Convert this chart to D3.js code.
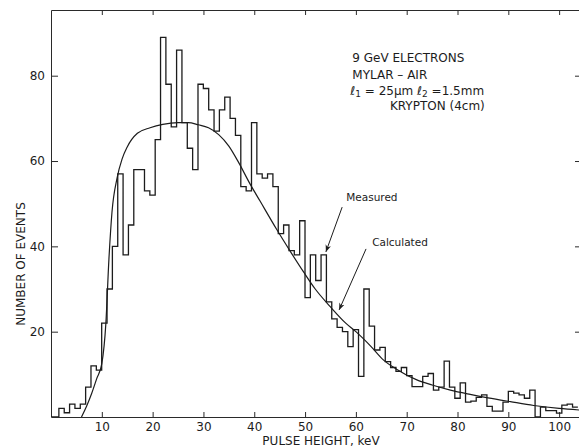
<!DOCTYPE html>
<html>
<head>
<meta charset="utf-8">
<script src="https://cdn.jsdelivr.net/npm/d3@7"></script>
<style>
  body { margin: 0; background: #fff; }
  text { font-family: "DejaVu Sans", sans-serif; fill: #1c1c1c; }
</style>
</head>
<body>
<div id="chart"></div>
<script>
// Measured histogram: bins start at binStartKeV, each binWidthKeV wide
var binStartKeV = 1.55;
var binWidthKeV = 1.053;
var measuredCounts = [
  2, 1, 3, 2, 3, 7, 12, 11, 22, 30,
  40, 57, 38, 45, 58, 58, 53, 52, 65, 89,
  78, 68, 86, 69, 63, 58, 78, 77, 72, 67,
  72, 75, 70, 66, 54, 53, 69, 57, 56, 57,
  54, 43, 45, 39, 38, 46, 28, 38, 32, 38,
  27, 23, 21, 20, 16.5, 20.5, 9.5, 30, 21.3, 15.7,
  16.3, 13, 11.6, 10.7, 11.6, 9.7, 7.1, 7.1, 9.5, 10.2,
  6.3, 7, 13.1, 7, 4.4, 8, 3.5, 3.7, 4.6, 5.2,
  2.5, 1.4, 1.4, 3.5, 6, 5.6, 5.2, 4.4, 6.3, 0,
  2.3, 1.5, 1.5, 0.9, 2.8, 3, 2.3
];

// Calculated curve
var calcKeV = [6.0, 7, 8, 9, 10, 10.8, 11.4, 12, 13, 14, 15, 17, 19.5, 22, 25, 27, 29, 31, 33, 35,
  37, 39, 41.2, 44.4, 47, 49.7, 52, 55, 58, 60, 63, 65.4, 68, 72, 75, 78.6, 82.5, 86, 90.4, 95, 100, 104.5];
var calcCounts = [0, 2.5, 5.5, 9, 12.5, 22, 37, 48, 56, 60.5, 63.3, 66.5, 67.8, 68.6, 69, 69, 68.5, 67.8, 66.2, 63.5,
  59.5, 55, 50.5, 44, 39, 34, 30, 25.8, 22, 20, 16.5, 13.4, 11.2, 8.7, 7.5, 6.3, 5.3, 4.5, 3.6, 2.7, 2.0, 1.6];

// Axis ticks
var xTicks = [10, 20, 30, 40, 50, 60, 70, 80, 90, 100];
var yTicks = [20, 40, 60, 80];

// Text block and arrows (data coordinates)
var infoLines = ["9 GeV ELECTRONS", "MYLAR \u2013 AIR", "", "KRYPTON (4cm)"];
var infoKeV = [59.3, 59.3, 58.9, 66.7];
var infoCount = [83.2, 79.2, 75.5, 72.0];

var noteLabels = ["Measured", "Calculated"];
var noteKeV = [58.1, 63.2];
var noteCount = [50.6, 40.1];
var arrowFromKeV = [57.3, 62.0];
var arrowFromCount = [49.2, 39.4];
var arrowToKeV = [54.1, 56.7];
var arrowToCount = [38.7, 25.1];

// SVG area
var svgWidth = 579;
var svgHeight = 447;

// right margin is negative: the right frame sits just past the edge of the picture
var chartMargin = { top: 10, right: -3, bottom: 30, left: 51 };
var chartWidth = svgWidth - chartMargin.left - chartMargin.right;
var chartHeight = svgHeight - chartMargin.top - chartMargin.bottom;

var svg = d3.select("#chart")
  .append("svg")
  .attr("width", svgWidth)
  .attr("height", svgHeight)
;

var defs = svg.append("defs");
defs.append("clipPath")
    .attr("id", "plot-clip")
  .append("rect")
    .attr("width", chartWidth)
    .attr("height", chartHeight);

defs.append("marker")
    .attr("id", "arrow")
    .attr("viewBox", "0 0 10 10")
    .attr("refX", 10)
    .attr("refY", 5)
    .attr("markerWidth", 7)
    .attr("markerHeight", 7)
    .attr("orient", "auto")
  .append("path")
    .attr("d", "M0,1 L10,5 L0,9 L3,5 z")
    .attr("fill", "#1c1c1c");

var chartGroup = svg.append("g")
    .attr("transform", `translate(${chartMargin.left}, ${chartMargin.top})`)
;

// Scales
var xScale = d3.scaleLinear()
  .domain([0, 104.5])
  .range([0, chartWidth])
;
var yScale = d3.scaleLinear()
  .domain([0, 95.4])
  .range([chartHeight, 0])
;

// Axes, ticks pointing into the plot
var bottomAxis = d3.axisBottom(xScale).tickValues(xTicks).tickSize(-5).tickSizeOuter(0).tickPadding(5);
var topAxis = d3.axisTop(xScale).tickValues(xTicks).tickSize(-5).tickSizeOuter(0).tickFormat("");
var leftAxis = d3.axisLeft(yScale).tickValues(yTicks).tickSize(-7).tickSizeOuter(0).tickPadding(6);
var rightAxis = d3.axisRight(yScale).tickValues(yTicks).tickSize(-7).tickSizeOuter(0).tickFormat("");

chartGroup.append("g")
    .attr("transform", `translate(0, ${chartHeight})`)
    .call(bottomAxis);
chartGroup.append("g").call(topAxis);
chartGroup.append("g").call(leftAxis);
chartGroup.append("g")
    .attr("transform", `translate(${chartWidth}, 0)`)
    .call(rightAxis);

chartGroup.selectAll(".domain, .tick line")
    .attr("stroke", "#2a2a2a")
    .attr("stroke-width", 1);
chartGroup.selectAll(".tick text")
    .attr("font-family", "DejaVu Sans")
    .attr("font-size", 12)
    .attr("fill", "#1c1c1c");

// Measured histogram as a step line
var steps = [[0, 0]];
measuredCounts.forEach(function(c, i) {
    steps.push([binStartKeV + i * binWidthKeV, c]);
});
steps.push([binStartKeV + measuredCounts.length * binWidthKeV, measuredCounts[measuredCounts.length - 1]]);

var stepLine = d3.line()
    .x(d => xScale(d[0]))
    .y(d => yScale(d[1]))
    .curve(d3.curveStepAfter);

chartGroup.append("path")
    .datum(steps)
    .attr("clip-path", "url(#plot-clip)")
    .attr("d", stepLine)
    .attr("fill", "none")
    .attr("stroke", "#1c1c1c")
    .attr("stroke-width", 1.3);

// Calculated curve
var calcLine = d3.line()
    .x((d, i) => xScale(calcKeV[i]))
    .y(d => yScale(d))
    .curve(d3.curveMonotoneX);

chartGroup.append("path")
    .datum(calcCounts)
    .attr("clip-path", "url(#plot-clip)")
    .attr("d", calcLine)
    .attr("fill", "none")
    .attr("stroke", "#1c1c1c")
    .attr("stroke-width", 1.2);

// Info block
infoLines.forEach(function(t, i) {
    var txt = chartGroup.append("text")
        .attr("x", xScale(infoKeV[i]))
        .attr("y", yScale(infoCount[i]))
        .attr("font-size", 12);
    if (i === 2) {
        // l1 = 25um  l2 = 1.5mm with subscripts
        txt.append("tspan").text("\u2113");
        txt.append("tspan").attr("font-size", 9).attr("dy", 2).text("1");
        txt.append("tspan").attr("dy", -2).text(" = 25\u03bcm  \u2113");
        txt.append("tspan").attr("font-size", 9).attr("dy", 2).text("2");
        txt.append("tspan").attr("dy", -2).text(" =1.5mm");
    } else {
        txt.text(t);
    }
});

// Arrow labels
noteLabels.forEach(function(t, i) {
    chartGroup.append("text")
        .attr("x", xScale(noteKeV[i]))
        .attr("y", yScale(noteCount[i]))
        .attr("font-size", 10.5)
        .text(t);
    chartGroup.append("line")
        .attr("x1", xScale(arrowFromKeV[i]))
        .attr("y1", yScale(arrowFromCount[i]))
        .attr("x2", xScale(arrowToKeV[i]))
        .attr("y2", yScale(arrowToCount[i]))
        .attr("stroke", "#1c1c1c")
        .attr("stroke-width", 1)
        .attr("marker-end", "url(#arrow)");
});

// Axis labels
chartGroup.append("text")
    .attr("transform", "rotate(-90)")
    .attr("x", 0 - (264 - chartMargin.top))
    .attr("y", 25 - chartMargin.left)
    .attr("text-anchor", "middle")
    .attr("font-size", 12)
    .text("NUMBER OF EVENTS");

chartGroup.append("text")
    .attr("x", 321 - chartMargin.left)
    .attr("y", 445 - chartMargin.top)
    .attr("text-anchor", "middle")
    .attr("font-size", 12)
    .text("PULSE HEIGHT, keV");
</script>
</body>
</html>
